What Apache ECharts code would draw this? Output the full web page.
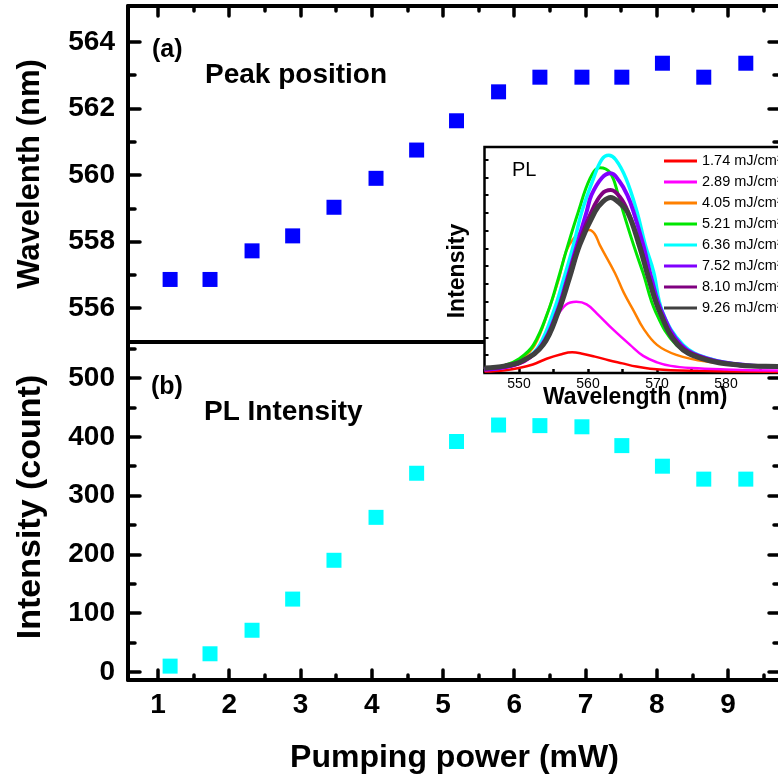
<!DOCTYPE html>
<html>
<head>
<meta charset="utf-8">
<script src="https://cdn.jsdelivr.net/npm/echarts@6/dist/echarts.min.js"></script>
<style>html,body{margin:0;padding:0;background:#fff}#c{width:778px;height:780px}</style>
</head>
<body>
<div id="c"></div>
<script>
// ---- data ----
const powerX = [1.17, 1.73, 2.32, 2.89, 3.47, 4.06, 4.63, 5.19, 5.78, 6.36, 6.95, 7.51, 8.08, 8.66, 9.25];
const peakNm = [556.86, 556.86, 557.72, 558.17, 559.03, 559.90, 560.75, 561.63, 562.50, 562.94, 562.94, 562.94, 563.36, 562.94, 563.36];
const plCount = [10, 31, 71, 124, 190, 263, 338, 392, 420, 419, 417, 385, 350, 328, 328];

const xTicksMajor = [1, 2, 3, 4, 5, 6, 7, 8, 9];
const xTicksMinor = [1.5, 2.5, 3.5, 4.5, 5.5, 6.5, 7.5, 8.5, 9.5];
const nmTicksMajor = [556, 558, 560, 562, 564];
const nmTicksMinor = [557, 559, 561, 563];
const cntTicksMajor = [0, 100, 200, 300, 400, 500];
const cntTicksMinor = [50, 150, 250, 350, 450, 550];

const legendNames = ['1.74 mJ/cm²', '2.89 mJ/cm²', '4.05 mJ/cm²', '5.21 mJ/cm²', '6.36 mJ/cm²', '7.52 mJ/cm²', '8.10 mJ/cm²', '9.26 mJ/cm²'];
const spec174 = [[545,4],[548,8],[550,14],[552,24],[554,40],[556,52],[557.7,58],[559,55],[561,46],[563,36],[565,27],[567,18],[569,12],[572,8],[576,6],[582,4],[590,3],[595,3]];
const spec289 = [[545,8],[548,14],[550,24],[551.6,41],[553,72],[554.2,125],[555.5,160],[556.8,192],[558.3,200],[559.8,193],[561.3,167],[563.7,121],[566.1,79],[568,48],[570,30],[572,20],[575,14],[580,10],[587,7],[595,6]];
const spec405 = [[545,12],[548,22],[550.4,41],[552.3,79],[554.2,172],[555.8,266],[556.8,341],[558,380],[559.2,398],[560.2,402],[561,390],[561.7,360],[563.9,281],[565.2,225],[566.7,172],[568,126],[570,79],[572.8,51],[577.2,32],[583,22],[590,16],[595,13]];
const spec521 = [[545,12],[548,22],[550.1,41],[552.1,79],[554.2,172],[555.7,266],[557.1,360],[558.6,453],[560.3,547],[561.7,577],[563.2,563],[564.4,500],[565.1,453],[566.6,360],[568,280],[569.8,172],[572.8,79],[576.7,41],[582,22],[590,16],[595,14]];
const spec636 = [[545,12],[548,18],[551.1,41],[553,79],[555,172],[556.5,266],[557.9,360],[559.1,453],[560.8,547],[562,600],[563,612],[564,600],[565.5,547],[567.1,453],[568.3,360],[569.5,285],[570.8,172],[573.8,79],[577.5,41],[583,22],[590,16],[595,14]];
const spec752 = [[545,10],[548,17],[550.7,35],[553.3,79],[555.5,172],[557,266],[558.4,360],[559.8,453],[560.5,500],[562,548],[563.3,561],[564.5,540],[565.7,500],[566.6,453],[568,360],[569.2,266],[570.7,172],[573.5,79],[577.2,41],[583,22],[590,17],[595,15]];
const spec810 = [[545,12],[548,18],[550.7,34],[553.4,79],[555.6,172],[557.1,266],[558.6,360],[560.5,453],[562,503],[563.3,514],[564.6,495],[565.8,453],[567.5,360],[568.8,266],[570.4,172],[573.2,79],[576.9,41],[582,22],[590,17],[595,15]];
const spec926 = [[545,14],[548,20],[550.5,34],[553.5,79],[555.7,172],[557.3,266],[558.8,360],[561,453],[562.2,482],[563.3,493],[564.4,480],[565.7,453],[567.4,360],[568.8,266],[570.4,172],[573,79],[576.4,41],[582,22],[587.5,18],[595,15]];
const spectra = [spec174, spec289, spec405, spec521, spec636, spec752, spec810, spec926];
const specColors = ['#ff0000', '#ff00ff', '#ff8000', '#00e600', '#00ffff', '#8000ff', '#800080', '#404040'];
const specWidths = [2.5, 2.5, 2.5, 3, 3.5, 4, 4, 5];

// ---- styling ----
const FONT = 'Liberation Sans';
const xMin = 0.579, xMax = 9.744;
const nmMin = 554.98, nmMax = 565.08;
const cntMin = -13.6, cntMax = 561.2;

function tick(vals, len, w) {
  return {show: true, inside: true, length: len, customValues: vals,
          lineStyle: {color: '#000', width: w || 3.5, cap: 'round'}};
}
function line(show) {
  return {show: show, onZero: false, lineStyle: {color: '#000', width: 4}};
}
const noLabel = {show: false};
const bigLabel = {show: true, fontSize: 28, fontWeight: 'bold', fontFamily: FONT, color: '#000'};

function xAx(grid, pos, opts) {
  return Object.assign({type: 'value', gridIndex: grid, position: pos, min: xMin, max: xMax,
    splitLine: {show: false}, axisLine: line(false), axisTick: {show: false}, axisLabel: noLabel}, opts);
}
function yAx(grid, pos, mn, mx, opts) {
  return Object.assign({type: 'value', gridIndex: grid, position: pos, min: mn, max: mx,
    splitLine: {show: false}, axisLine: line(false), axisTick: {show: false}, axisLabel: noLabel}, opts);
}

const xAxes = [
  xAx(0, 'bottom', {axisLine: line(true)}),                                  // 0 divider
  xAx(0, 'top', {axisLine: line(true), axisTick: tick(xTicksMajor, 10)}),     // 1
  xAx(0, 'top', {axisTick: tick(xTicksMinor, 5)}),                           // 2
  xAx(1, 'bottom', {axisLine: line(true), axisTick: tick(xTicksMajor, 10),   // 3
    axisLabel: Object.assign({customValues: xTicksMajor, margin: 11}, bigLabel),
    name: 'Pumping power (mW)', nameLocation: 'middle', nameGap: 62,
    nameTextStyle: {fontSize: 32, fontWeight: 'bold', fontFamily: FONT, color: '#000'}}),
  xAx(1, 'bottom', {axisTick: tick(xTicksMinor, 5)}),                        // 4
  { // 5 inset
    type: 'value', gridIndex: 2, position: 'bottom', min: 545, max: 595, interval: 5, zlevel: 1,
    splitLine: {show: false}, axisLine: {show: false, onZero: false},
    axisTick: {show: true, inside: true, length: 4, lineStyle: {color: '#000', width: 2.5}},
    axisLabel: {show: true, margin: 4, fontSize: 14, fontFamily: FONT, color: '#000',
      formatter: v => (v % 10 === 0 ? String(v) : '')}
  }
];

const yAxes = [
  yAx(0, 'left', nmMin, nmMax, {axisLine: line(true), axisTick: tick(nmTicksMajor, 12),
    axisLabel: Object.assign({customValues: nmTicksMajor, margin: 13}, bigLabel),
    name: 'Wavelenth (nm)', nameLocation: 'middle', nameGap: 82,
    nameTextStyle: {fontSize: 31, fontWeight: 'bold', fontFamily: FONT, color: '#000'}}),   // 0
  yAx(0, 'left', nmMin, nmMax, {axisTick: tick(nmTicksMinor, 7)}),           // 1
  yAx(0, 'right', nmMin, nmMax, {axisLine: line(true), axisTick: tick(nmTicksMajor, 12)}), // 2
  yAx(0, 'right', nmMin, nmMax, {axisTick: tick(nmTicksMinor, 7)}),          // 3
  yAx(1, 'left', cntMin, cntMax, {axisLine: line(true), axisTick: tick(cntTicksMajor, 12),
    axisLabel: Object.assign({customValues: cntTicksMajor, margin: 13}, bigLabel),
    name: 'Intensity (count)', nameLocation: 'middle', nameGap: 80,
    nameTextStyle: {fontSize: 34, fontWeight: 'bold', fontFamily: FONT, color: '#000', padding: [0, 0, 0, 8]}}),   // 4
  yAx(1, 'left', cntMin, cntMax, {axisTick: tick(cntTicksMinor, 7)}),        // 5
  yAx(1, 'right', cntMin, cntMax, {axisLine: line(true), axisTick: tick(cntTicksMajor, 12)}), // 6
  yAx(1, 'right', cntMin, cntMax, {axisTick: tick(cntTicksMinor, 7)}),       // 7
  { // 8 inset
    type: 'value', gridIndex: 2, position: 'left', min: 0, max: 635, interval: 50, zlevel: 1,
    splitLine: {show: false}, axisLine: {show: false, onZero: false},
    axisTick: {show: true, inside: true, length: 4, lineStyle: {color: '#000', width: 2}},
    axisLabel: {show: false}
  }
];

const series = [
  {type: 'scatter', xAxisIndex: 0, yAxisIndex: 0, symbol: 'rect', symbolSize: 15,
   itemStyle: {color: '#0000ff', opacity: 1}, data: powerX.map((x, i) => [x, peakNm[i]]), z: 5},
  {type: 'scatter', xAxisIndex: 3, yAxisIndex: 4, symbol: 'rect', symbolSize: 15,
   itemStyle: {color: '#00ffff', opacity: 1}, data: powerX.map((x, i) => [x, plCount[i]]), z: 5}
];
spectra.forEach((d, i) => {
  series.push({type: 'line', name: legendNames[i], xAxisIndex: 5, yAxisIndex: 8, zlevel: 1, z: 2 + i,
    showSymbol: false, smooth: 0.4, data: d, color: specColors[i],
    lineStyle: {color: specColors[i], width: specWidths[i]}});
});

const option = {
  backgroundColor: '#fff',
  animation: false,
  grid: [
    {left: 128, top: 6, width: 653, height: 336, outerBoundsMode: 'none', containLabel: false},
    {left: 128, top: 342, width: 653, height: 338, outerBoundsMode: 'none', containLabel: false},
    {left: 484.5, top: 147, width: 345, height: 226, outerBoundsMode: 'none', containLabel: false,
     show: true, backgroundColor: '#fff', borderColor: '#000', borderWidth: 2.5, zlevel: 1}
  ],
  xAxis: xAxes,
  yAxis: yAxes,
  legend: {orient: 'vertical', left: 664, top: 153, padding: 0, itemWidth: 33, itemHeight: 3, icon: 'rect',
    itemGap: 5, selectedMode: false, zlevel: 1, z: 20, data: legendNames,
    textStyle: {fontSize: 14.5, fontFamily: FONT, color: '#000', lineHeight: 16}},
  graphic: [
    {type: 'text', left: 152, top: 38, z: 100, style: {text: '(a)', font: 'bold 25px "Liberation Sans"', fill: '#000'}},
    {type: 'text', left: 205, top: 61, z: 100, style: {text: 'Peak position', font: 'bold 28px "Liberation Sans"', fill: '#000'}},
    {type: 'text', left: 151, top: 375, z: 100, style: {text: '(b)', font: 'bold 25px "Liberation Sans"', fill: '#000'}},
    {type: 'text', left: 204, top: 398, z: 100, style: {text: 'PL Intensity', font: 'bold 28px "Liberation Sans"', fill: '#000'}},
    {type: 'text', left: 512, top: 160, zlevel: 1, z: 100, style: {text: 'PL', font: '20px "Liberation Sans"', fill: '#000'}},
    {type: 'text', left: 543, top: 386, zlevel: 1, z: 100, style: {text: 'Wavelength (nm)', font: 'bold 23px "Liberation Sans"', fill: '#000'}},
    {type: 'text', x: 457.5, y: 271, rotation: Math.PI / 2, zlevel: 1, z: 100,
     style: {text: 'Intensity', font: 'bold 23px "Liberation Sans"', fill: '#000', align: 'center', verticalAlign: 'middle'}}
  ],
  series: series
};

const chart = echarts.init(document.getElementById('c'), null, {renderer: 'canvas'});
chart.setOption(option);
</script>
</body>
</html>
